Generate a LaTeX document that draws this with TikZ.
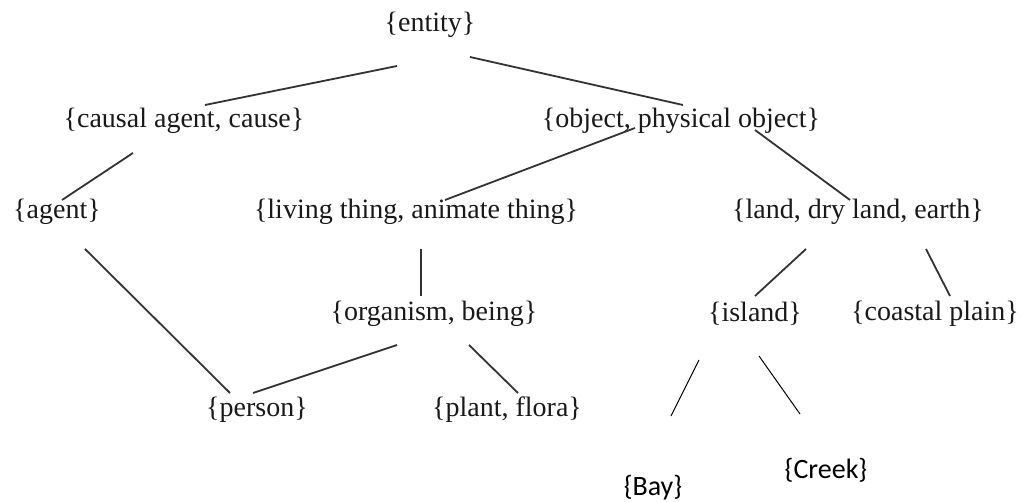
\documentclass[tikz,border=0pt]{standalone}
\usepackage{fontspec}
\setmainfont{Liberation Serif}
\newfontfamily\calibrifont{Carlito}
\usetikzlibrary{calc}
\tikzstyle{synset} = [inner sep=0pt, font=\fontsize{28}{32}\selectfont, text=black!90]
\tikzstyle{added} = [inner sep=0pt, font=\calibrifont\fontsize{28}{32}\selectfont, text=black]
\tikzstyle{link} = [line width=1.8pt, draw=black!80]
\tikzstyle{thinlink} = [line width=1pt, draw=black]

\begin{document}
\begin{tikzpicture}[x=1pt, y=-1pt]
    \useasboundingbox (0,0) rectangle (1029,502);

    % Nodes
    \node (entity) [synset] at (430,25) {\{entity\}};
    \node (causalAgent) [synset] at (184,121) {\{causal agent, cause\}};
    \node (object) [synset] at (681,121) {\{object, physical object\}};
    \node (agent) [synset] at (57,212) {\{agent\}};
    \node (livingThing) [synset] at (416,212) {\{living thing, animate thing\}};
    \node (land) [synset] at (858,212) {\{land, dry land, earth\}};
    \node (organism) [synset] at (434,314) {\{organism, being\}};
    \node (island) [synset] at (755,314) {\{island\}};
    \node (coastalPlain) [synset] at (935,314) {\{coastal plain\}};
    \node (person) [synset] at (257,410) {\{person\}};
    \node (plant) [synset] at (507,410) {\{plant, flora\}};
    \node (bay) [added] at (653,488) {\{Bay\}};
    \node (creek) [added] at (826,470) {\{Creek\}};

    % Lines
    \draw [link] ($(entity)+(-33,41)$) -- ($(causalAgent)+(21,-16)$);
    \draw [link] ($(entity)+(40,32)$) -- ($(object)+(2,-16)$);
    \draw [link] ($(causalAgent)+(-51,32)$) -- ($(agent)+(5,-12)$);
    \draw [link] ($(object)+(-46,7)$) -- ($(livingThing)+(29,-12)$);
    \draw [link] ($(object)+(74,9)$) -- ($(land)+(-8,-12)$);
    \draw [link] ($(agent)+(28,37)$) -- ($(person)+(-27,-17)$);
    \draw [link] ($(livingThing)+(5,37)$) -- ($(organism)+(-13,-18)$);
    \draw [link] ($(organism)+(-37,31)$) -- ($(person)+(-4,-17)$);
    \draw [link] ($(organism)+(35,31)$) -- ($(plant)+(11,-17)$);
    \draw [link] ($(land)+(-52,37)$) -- ($(island)+(0,-18)$);
    \draw [link] ($(land)+(68,37)$) -- ($(coastalPlain)+(15,-18)$);
    \draw [thinlink] ($(island)+(-56,46)$) -- ($(bay)+(18,-72)$);
    \draw [thinlink] ($(island)+(4,42)$) -- ($(creek)+(-26,-56)$);

\end{tikzpicture}
\end{document}
